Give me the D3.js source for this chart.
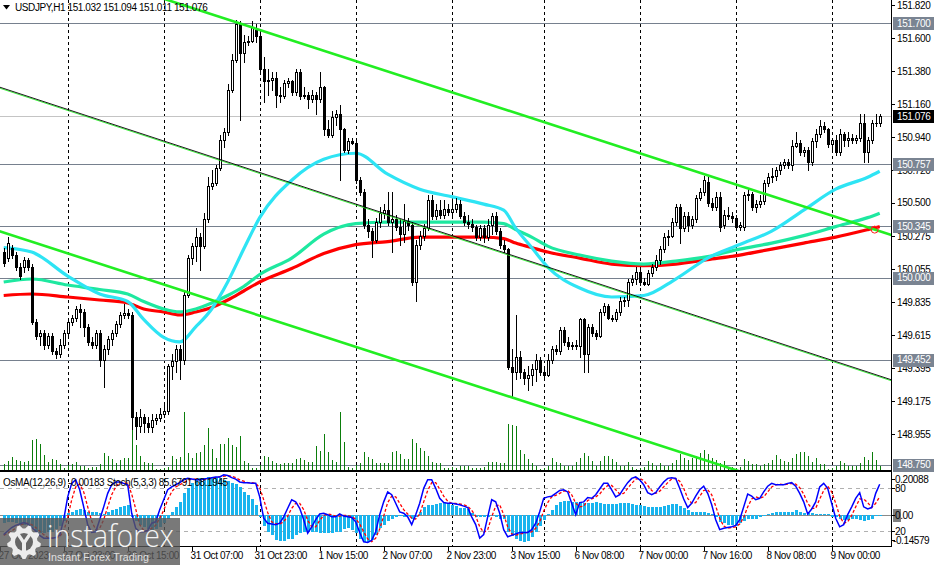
<!DOCTYPE html>
<html><head><meta charset="utf-8">
<script src="https://cdn.jsdelivr.net/npm/d3@7/dist/d3.min.js"></script>
<style>
html,body{margin:0;padding:0;background:#fff;overflow:hidden}
svg{display:block}
text{font-family:"Liberation Sans",Arial,sans-serif;font-size:10px;letter-spacing:-0.4px}
</style></head><body>
<svg id="chart" width="939" height="565"></svg>
<script>
// ---------- DATA (USDJPY H1, 27 Oct 2023 08:00 .. 9 Nov 2023 12:00) ----------
const opens=[150.17,150.13,150.20,150.15,150.07,150.07,150.12,150.07,149.70,149.61,
149.63,149.55,149.61,149.51,149.49,149.55,149.63,149.70,149.73,149.79,
149.77,149.67,149.57,149.55,149.63,149.45,149.52,149.59,149.63,149.69,
149.75,149.76,149.75,149.07,149.01,149.07,149.03,149.00,149.05,149.06,
149.09,149.11,149.41,149.44,149.52,149.45,149.88,150.13,150.21,150.27,
150.21,150.39,150.61,150.63,150.73,150.92,150.97,151.25,151.45,151.69,
151.50,151.57,151.58,151.65,151.61,151.39,151.31,151.32,151.33,151.22,
151.21,151.30,151.31,151.24,151.37,151.21,151.22,151.19,151.22,151.19,
151.27,150.99,150.95,151.07,151.09,150.99,150.85,150.91,150.90,150.65,
150.57,150.35,150.31,150.25,150.37,150.43,150.45,150.37,150.39,150.34,
150.29,150.38,150.35,149.97,150.22,150.28,150.33,150.52,150.41,150.45,
150.42,150.46,150.44,150.46,150.49,150.41,150.37,150.36,150.34,150.27,
150.33,150.27,150.35,150.41,150.31,150.22,150.19,149.40,149.37,149.47,
149.37,149.33,149.35,149.39,149.45,149.37,149.35,149.45,149.52,149.51,
149.65,149.57,149.54,149.55,149.54,149.72,149.49,149.67,149.63,149.61,
149.77,149.81,149.73,149.72,149.77,149.84,149.85,149.97,149.99,150.04,
149.97,149.96,150.03,150.07,150.12,150.19,150.27,150.28,150.37,150.47,
150.33,150.41,150.35,150.39,150.53,150.57,150.64,150.50,150.47,150.54,
150.35,150.42,150.41,150.40,150.34,150.34,150.55,150.56,150.47,150.49,
150.51,150.63,150.67,150.68,150.72,150.75,150.77,150.75,150.88,150.90,
150.84,150.85,150.77,150.91,150.96,151.01,150.99,150.89,150.92,150.84,
150.96,150.92,150.93,150.92,150.93,151.03,150.84,150.92,151.03,151.032];
const highs=[150.20,150.27,150.22,150.17,150.10,150.14,150.13,150.09,149.72,149.65,
149.65,149.63,149.63,149.53,149.59,149.65,149.73,149.75,149.81,149.82,
149.79,149.69,149.60,149.65,149.65,149.55,149.61,149.65,149.71,149.77,
149.82,149.79,149.77,149.10,149.12,149.09,149.07,149.09,149.09,149.13,
149.15,149.42,149.49,149.55,149.55,149.92,150.15,150.23,150.33,150.30,
150.43,150.67,150.72,150.75,150.95,151.00,151.29,151.49,151.72,151.71,
151.62,151.61,151.71,151.69,151.63,151.47,151.39,151.37,151.37,151.27,
151.32,151.33,151.32,151.39,151.39,151.27,151.24,151.25,151.24,151.37,
151.28,151.05,151.11,151.12,151.15,151.00,150.93,150.93,150.92,150.67,
150.59,150.39,150.33,150.40,150.47,150.49,150.57,150.57,150.42,150.39,
150.49,150.40,150.37,150.25,150.31,150.36,150.55,150.55,150.49,150.52,
150.52,150.49,150.52,150.53,150.52,150.44,150.42,150.39,150.35,150.35,
150.35,150.39,150.43,150.44,150.33,150.25,150.20,149.52,149.75,149.51,
149.39,149.41,149.42,149.49,149.47,149.39,149.49,149.54,149.55,149.67,
149.67,149.60,149.57,149.58,149.73,149.73,149.69,149.69,149.65,149.79,
149.83,149.82,149.75,149.79,149.87,149.87,149.99,150.02,150.07,150.07,
150.00,150.05,150.09,150.15,150.21,150.30,150.32,150.40,150.49,150.49,
150.44,150.44,150.41,150.55,150.60,150.68,150.67,150.53,150.57,150.57,
150.45,150.47,150.44,150.42,150.37,150.57,150.59,150.57,150.52,150.55,
150.65,150.70,150.73,150.74,150.77,150.79,150.79,150.92,150.97,150.92,
150.87,150.87,150.93,150.99,151.05,151.04,151.00,150.93,150.95,150.99,
150.97,150.97,150.96,150.95,151.09,151.09,150.94,151.05,151.09,151.094];
const lows=[150.08,150.11,150.13,150.05,149.99,150.04,150.05,149.69,149.59,149.55,
149.52,149.53,149.49,149.46,149.47,149.53,149.61,149.68,149.71,149.67,
149.61,149.55,149.53,149.53,149.41,149.27,149.49,149.55,149.61,149.67,
149.73,149.73,148.99,148.92,148.97,148.97,148.97,148.97,149.02,149.04,
149.07,149.09,149.32,149.37,149.32,149.42,149.87,150.09,150.11,150.05,
150.20,150.37,150.59,150.62,150.72,150.87,150.95,151.24,151.44,151.05,
151.44,151.55,151.57,151.57,151.37,151.17,151.22,151.25,151.14,151.17,
151.20,151.27,151.22,151.22,151.19,151.20,151.13,151.17,151.09,151.17,
150.95,150.94,150.94,151.02,150.65,150.84,150.83,150.89,150.63,150.55,
150.33,150.27,150.14,150.24,150.34,150.40,150.35,150.17,150.32,150.22,
150.24,150.32,149.95,149.84,150.19,150.25,150.32,150.39,150.39,150.40,
150.40,150.42,150.42,150.44,150.40,150.35,150.33,150.31,150.25,150.25,
150.24,150.25,150.29,150.29,150.20,150.17,149.39,149.21,149.32,149.33,
149.29,149.25,149.28,149.31,149.35,149.33,149.34,149.43,149.49,149.49,
149.55,149.52,149.52,149.52,149.47,149.37,149.37,149.61,149.59,149.60,
149.75,149.72,149.71,149.71,149.75,149.81,149.81,149.95,149.96,149.95,
149.95,149.95,150.01,150.05,150.09,150.17,150.22,150.27,150.35,150.23,
150.31,150.31,150.33,150.37,150.52,150.55,150.48,150.45,150.45,150.31,
150.33,150.39,150.37,150.32,150.32,150.32,150.52,150.45,150.44,150.47,
150.49,150.61,150.64,150.65,150.69,150.73,150.73,150.72,150.87,150.82,
150.81,150.72,150.75,150.87,150.94,150.97,150.87,150.85,150.82,150.82,
150.88,150.88,150.90,150.90,150.91,150.77,150.77,150.90,151.01,151.011];
const closes=[150.10,150.23,150.15,150.07,150.01,150.12,150.07,149.70,149.61,149.63,
149.55,149.61,149.51,149.49,149.55,149.63,149.70,149.73,149.79,149.77,
149.67,149.57,149.55,149.63,149.45,149.52,149.59,149.63,149.69,149.75,
149.76,149.75,149.07,149.01,149.07,149.03,149.00,149.05,149.06,149.09,
149.11,149.41,149.44,149.52,149.45,149.88,150.13,150.21,150.27,150.21,
150.39,150.61,150.63,150.73,150.92,150.97,151.25,151.45,151.69,151.50,
151.57,151.58,151.67,151.61,151.39,151.31,151.32,151.33,151.22,151.21,
151.30,151.31,151.24,151.37,151.21,151.22,151.19,151.22,151.19,151.27,
150.99,150.95,151.07,151.09,150.99,150.85,150.91,150.90,150.65,150.57,
150.35,150.31,150.25,150.37,150.43,150.45,150.37,150.39,150.34,150.29,
150.38,150.35,149.97,150.22,150.28,150.33,150.52,150.41,150.45,150.42,
150.46,150.44,150.46,150.49,150.41,150.37,150.36,150.34,150.27,150.33,
150.27,150.35,150.41,150.31,150.22,150.19,149.40,149.37,149.47,149.37,
149.33,149.35,149.39,149.45,149.37,149.35,149.45,149.52,149.51,149.65,
149.57,149.54,149.55,149.54,149.72,149.49,149.67,149.63,149.61,149.77,
149.81,149.73,149.72,149.77,149.84,149.85,149.97,149.99,150.04,149.97,
149.96,150.03,150.07,150.12,150.19,150.27,150.28,150.37,150.47,150.33,
150.41,150.35,150.39,150.53,150.57,150.65,150.50,150.47,150.54,150.34,
150.42,150.41,150.40,150.34,150.35,150.55,150.56,150.47,150.49,150.51,
150.63,150.67,150.68,150.72,150.75,150.77,150.75,150.88,150.90,150.84,
150.85,150.77,150.91,150.96,151.01,150.99,150.89,150.92,150.84,150.96,
150.92,150.93,150.92,150.93,151.03,150.84,150.92,151.03,151.03,151.076];
const volumes=[570,900,1300,1000,900,800,900,3000,3100,2600,
1500,800,1100,1000,600,200,500,600,800,400,
400,200,300,300,600,1700,1400,1100,700,1000,
1200,1200,4200,2500,1400,800,700,700,100,100,
200,300,1400,1100,1300,5800,1700,1200,1700,1800,
2500,4200,2100,1200,2600,2600,3200,2500,2300,3400,
900,700,200,200,500,1400,1300,900,700,600,
700,700,700,1100,1200,1000,800,800,2400,1900,
3600,1800,1000,800,5800,2800,300,200,500,700,
1800,1300,1100,700,700,700,700,1800,1900,1600,
1100,1100,3100,2700,2200,1900,1400,800,700,700,
200,200,300,200,400,400,400,200,200,200,
300,800,800,800,700,700,4600,4500,4400,2000,
1600,1100,700,400,100,200,400,1200,800,700,
400,400,400,800,1200,1700,1400,900,400,900,
1400,1400,1100,800,400,400,800,300,100,200,
300,900,700,400,700,400,400,700,1000,1600,
1200,1000,1200,1400,1700,2000,1600,1200,1000,700,
900,100,300,200,300,1100,900,600,600,400,
600,700,1000,1500,1100,900,800,1200,1600,1800,
1800,1400,800,1200,600,600,100,200,400,900,
700,400,400,400,700,1300,1000,1800,1000,400];
const osma=[-0.039,-0.034,-0.034,-0.039,-0.044,-0.044,-0.044,-0.063,-0.078,-0.087,
-0.087,-0.082,-0.078,-0.068,-0.053,-0.029,0.010,0.019,0.024,0.029,
0.024,0.019,0.015,0.015,0.010,0.005,0.019,0.024,0.029,0.039,
0.044,0.049,-0.010,-0.029,-0.044,-0.058,-0.068,-0.073,-0.068,-0.058,
-0.039,-0.015,0.015,0.039,0.063,0.107,0.131,0.155,0.170,0.180,
0.180,0.184,0.184,0.184,0.180,0.170,0.165,0.155,0.150,0.136,
0.116,0.097,0.078,0.049,-0.010,-0.049,-0.082,-0.097,-0.121,-0.126,
-0.126,-0.116,-0.112,-0.097,-0.087,-0.082,-0.082,-0.082,-0.082,-0.087,
-0.087,-0.087,-0.087,-0.082,-0.078,-0.068,-0.063,-0.073,-0.087,-0.112,
-0.131,-0.131,-0.121,-0.097,-0.063,-0.044,-0.029,-0.015,-0.010,-0.005,
-0.010,-0.005,-0.015,-0.010,0.015,0.039,0.049,0.049,0.053,0.058,
0.058,0.053,0.049,0.044,0.034,0.034,0.029,0.010,-0.010,-0.010,
-0.010,-0.010,-0.005,-0.010,-0.015,-0.015,-0.082,-0.102,-0.112,-0.126,
-0.131,-0.126,-0.107,-0.082,-0.049,-0.024,0.005,0.024,0.049,0.063,
0.068,0.068,0.063,0.063,0.063,0.058,0.058,0.058,0.063,0.058,
0.053,0.053,0.053,0.053,0.058,0.058,0.058,0.053,0.049,0.049,
0.044,0.039,0.039,0.039,0.039,0.044,0.049,0.053,0.053,0.044,
0.034,0.024,0.019,0.019,0.019,0.015,0.010,0.005,-0.010,-0.034,
-0.039,-0.044,-0.044,-0.049,-0.039,-0.029,-0.019,-0.019,-0.019,-0.010,
-0.005,0.005,0.010,0.015,0.015,0.015,0.019,0.019,0.024,0.019,
0.010,0.010,0.010,0.005,0.005,0.005,0.005,-0.010,-0.010,-0.015,
-0.024,-0.024,-0.019,-0.019,-0.024,-0.029,-0.024,-0.019,-0.005,-0.00183];
const stochMain=[15,20,25,28,30,32,30,25,20,14,
10,10,10,11,14,36,68,87,92,78,
54,29,18,19,36,54,73,85,89,89,
87,85,45,24,19,19,21,31,33,50,
64,78,82,85,88,92,94,93,92,92,
93,94,95,96,96,99,98,95,93,89,
88,88,87,87,68,38,31,30,29,31,
40,52,64,61,52,36,17,26,36,44,
45,43,40,40,44,41,40,39,33,18,
5,4,7,19,43,61,75,71,59,47,
45,40,29,43,59,80,92,92,80,66,
60,59,59,58,57,55,53,40,29,10,
15,40,64,61,45,22,12,14,16,18,
18,18,22,31,47,66,68,69,73,77,
78,75,59,43,60,61,67,66,71,79,
87,87,78,68,71,80,88,94,96,92,
85,74,71,74,82,89,94,95,94,80,
65,53,59,69,78,83,73,57,36,22,
24,25,26,28,36,54,72,69,64,66,
75,83,87,85,85,85,87,88,83,73,
61,44,51,61,82,87,80,59,38,26,
29,43,54,66,74,54,51,53,73,85.68];
const stochSignal=[14,17,20,24,28,30,31,29,25,20,
15,11,10,10,12,20,39,64,82,86,
75,54,34,22,24,36,54,71,82,88,
88,87,72,51,29,21,20,24,28,38,
49,64,75,82,85,88,91,93,93,92,
92,93,94,95,96,97,98,97,95,92,
90,88,88,87,81,64,46,33,30,30,
33,41,52,59,59,50,35,26,26,35,
42,44,43,41,41,42,42,40,37,30,
19,9,5,10,23,41,60,69,68,59,
50,44,38,37,44,61,77,88,88,79,
69,62,59,59,58,57,55,49,41,26,
18,22,40,55,57,43,26,16,14,16,
17,18,19,24,33,48,60,68,70,73,
76,77,71,59,54,55,63,65,68,72,
79,84,84,78,72,73,80,87,93,94,
91,84,77,73,76,82,88,93,94,90,
80,66,59,60,69,77,78,71,55,38,
27,24,25,26,30,39,54,65,68,66,
68,75,82,85,86,85,86,87,86,81,
72,59,52,52,65,77,83,75,59,41,
31,33,42,54,65,65,60,53,59,68.19];
// moving averages, read at these bar indices
const maBars=[0,7,16,24,31,35,40,44,48,52,56,60,64,72,80,88,96,104,112,120,125,128,132,136,144,152,160,168,176,184,192,200,208,216,219];
const maFast=[150.20,150.17,150.01,149.89,149.84,149.72,149.60,149.57,149.67,149.79,149.97,150.19,150.40,150.65,150.79,150.83,150.69,150.59,150.54,150.49,150.45,150.33,150.20,150.07,149.93,149.87,149.88,149.99,150.13,150.22,150.31,150.45,150.59,150.67,150.71];
const maMid=[149.97,149.99,149.95,149.92,149.89,149.84,149.79,149.77,149.79,149.83,149.88,149.94,150.02,150.13,150.29,150.36,150.37,150.37,150.37,150.37,150.36,150.32,150.27,150.21,150.15,150.11,150.09,150.11,150.14,150.19,150.23,150.28,150.34,150.40,150.43];
const maSlow=[149.88,149.89,149.87,149.85,149.83,149.79,149.77,149.75,149.77,149.80,149.85,149.91,149.97,150.06,150.16,150.22,150.24,150.27,150.27,150.27,150.26,150.23,150.20,150.17,150.13,150.09,150.08,150.09,150.12,150.15,150.19,150.23,150.27,150.32,150.34];
// trend lines: [bar0, price0, bar1, price1]
const trendUpper=[41,151.853,219,150.31];
const trendLower=[0,150.30,180,148.74];
const trendMiddle=[0,151.26,219,149.34];
const priceTicks=[151.820,151.600,151.380,151.160,150.940,150.720,150.500,150.275,150.055,149.835,149.615,149.395,149.175,148.955];
const levels=[151.700,150.757,150.345,150.000,149.452,148.750];
const lastPrice=151.076;
const daySeparators=[16,40,64,88,112,135,159,183,207];
const timeLabels=["27 Oct 2023","27 Oct 23:00","30 Oct 15:00","31 Oct 07:00","31 Oct 23:00","1 Nov 15:00","2 Nov 07:00","2 Nov 23:00","3 Nov 15:00","6 Nov 08:00","7 Nov 00:00","7 Nov 16:00","8 Nov 08:00","9 Nov 00:00"];
const timeLabelBars=[-1,15,31,47,63,79,95,111,127,143,159,175,191,207];
const osmaTicks=[0.20088,0.00,-0.14579];
const stochTicks=[80,20];
const titleText="USDJPY,H1  151.032 151.094 151.011 151.076";
const indText="OsMA(12,26,9) -0.00183   Stoch(5,3,3) 85.6791 68.1945";

// ---------- LAYOUT ----------
const plotR=891, mainB=470, indT=473, indB=546.5;
const svg=d3.select('#chart');
const x=d3.scaleLinear().domain([0,219]).range([3.7,879.7]);
const y=d3.scaleLinear().domain([148.955,151.820]).range([434,5]);
const yV=d3.scaleLinear().domain([0,6000]).range([mainB,410]);
const yO=d3.scaleLinear().domain([-0.14579,0.20088]).range([545.5,474]);
const yS=d3.scaleLinear().domain([0,100]).range([545.3,474.1]);
const px=i=>Math.round(x(i))+0.5;
const rY=v=>Math.round(v)+0.5;

const defs=svg.append('defs');
defs.append('clipPath').attr('id','cm').append('rect').attr('x',0).attr('y',0).attr('width',plotR).attr('height',mainB);
defs.append('clipPath').attr('id','ci').append('rect').attr('x',0).attr('y',indT).attr('width',plotR).attr('height',indB-indT);

svg.append('rect').attr('width',939).attr('height',565).attr('fill','#fff');

const gM=svg.append('g').attr('clip-path','url(#cm)');
const gI=svg.append('g').attr('clip-path','url(#ci)');

// day separators
[[0,mainB,gM],[indT,indB,gI]].forEach(([a,b,g])=>{
  g.selectAll(null).data(daySeparators).join('line')
   .attr('x1',d=>px(d)).attr('x2',d=>px(d)).attr('y1',a).attr('y2',b)
   .attr('stroke','#000').attr('stroke-dasharray','3,3').attr('shape-rendering','crispEdges');
});

// level lines
gM.selectAll(null).data(levels).join('line')
  .attr('x1',0).attr('x2',plotR).attr('y1',d=>rY(y(d))).attr('y2',d=>rY(y(d)))
  .attr('stroke','#76808e').attr('shape-rendering','crispEdges');
gM.append('line').attr('x1',0).attr('x2',plotR).attr('y1',rY(y(lastPrice))).attr('y2',rY(y(lastPrice)))
  .attr('stroke','#c4c4c4').attr('shape-rendering','crispEdges');

// volumes
gM.selectAll(null).data(volumes).join('line')
  .attr('x1',(d,i)=>px(i)).attr('x2',(d,i)=>px(i)).attr('y1',mainB).attr('y2',d=>Math.round(yV(d)))
  .attr('stroke','#0b7d0b').attr('shape-rendering','crispEdges');

// moving averages
const maLine=d3.line().x(d=>x(d[0])).y(d=>y(d[1])).curve(d3.curveMonotoneX);
[[maSlow,'#ff0000'],[maMid,'#1ee8a0'],[maFast,'#2ee4f4']].forEach(([arr,col])=>{
  gM.append('path').attr('d',maLine(maBars.map((b,k)=>[b,arr[k]])))
    .attr('fill','none').attr('stroke',col).attr('stroke-width',3.2);
});

// candles
const bars=d3.range(opens.length).map(i=>({i,o:opens[i],h:highs[i],l:lows[i],c:closes[i]}));
gM.selectAll(null).data(bars).join('line')
  .attr('x1',d=>px(d.i)).attr('x2',d=>px(d.i)).attr('y1',d=>Math.round(y(d.h))).attr('y2',d=>Math.round(y(d.l))+1)
  .attr('stroke','#000').attr('shape-rendering','crispEdges');
gM.selectAll(null).data(bars.filter(d=>d.c<d.o)).join('rect')
  .attr('x',d=>px(d.i)-1.5).attr('width',3)
  .attr('y',d=>Math.round(y(d.o))).attr('height',d=>Math.max(1,Math.round(y(d.c))-Math.round(y(d.o))+1))
  .attr('fill','#000').attr('shape-rendering','crispEdges');
gM.selectAll(null).data(bars.filter(d=>d.c>=d.o)).join('rect')
  .attr('x',d=>px(d.i)-1).attr('width',2)
  .attr('y',d=>rY(y(d.c))).attr('height',d=>Math.max(0.01,Math.round(y(d.o))-Math.round(y(d.c))))
  .attr('fill','#fff').attr('stroke','#000').attr('stroke-width',1).attr('shape-rendering','crispEdges');

// trend lines (rays extended through the x range)
function ext(t){const [b0,p0,b1,p1]=t;const s=(p1-p0)/(b1-b0);return [[-2,p0+s*(-2-b0)],[224,p0+s*(224-b0)]];}
const tl=d3.line().x(d=>x(d[0])).y(d=>y(d[1]));
const mid=ext(trendMiddle);
gM.append('path').attr('d',tl(mid)).attr('transform','translate(0,0.6)').attr('stroke','#22ee22').attr('stroke-width',0.9).attr('fill','none');
gM.append('path').attr('d',tl(mid)).attr('transform','translate(0,-0.4)').attr('stroke','#000').attr('stroke-width',0.9).attr('fill','none');
[trendUpper,trendLower].forEach(t=>{
  gM.append('path').attr('d',tl(ext(t))).attr('stroke','#22ee22').attr('stroke-width',2.6).attr('fill','none');
});
gM.append('circle').attr('cx',x(218)-1).attr('cy',y(maSlow[maSlow.length-1])+3).attr('r',3.5)
  .attr('fill','none').attr('stroke','#ff2020').attr('stroke-width',1);

// ---------- INDICATOR ----------
gI.append('line').attr('x1',0).attr('x2',plotR).attr('y1',rY(yO(0))).attr('y2',rY(yO(0))).attr('stroke','#8a8a8a').attr('shape-rendering','crispEdges');
gI.selectAll(null).data(stochTicks).join('line')
  .attr('x1',0).attr('x2',plotR).attr('y1',d=>rY(yS(d))).attr('y2',d=>rY(yS(d)))
  .attr('stroke','#b0b0b0').attr('stroke-dasharray','4,4').attr('shape-rendering','crispEdges');
gI.selectAll(null).data(osma).join('rect')
  .attr('x',(d,i)=>Math.round(x(i))-1).attr('width',3)
  .attr('y',d=>Math.round(yO(Math.max(d,0)))).attr('height',d=>Math.max(0,Math.abs(Math.round(yO(d))-Math.round(yO(0)))))
  .attr('fill','#19b4ee').attr('shape-rendering','crispEdges');
const sl=d3.line().x((d,i)=>x(i)).y(d=>yS(d));
gI.append('path').attr('d',sl(stochSignal)).attr('fill','none').attr('stroke','#ff0000').attr('stroke-width',1.3).attr('stroke-dasharray','3,2');
gI.append('path').attr('d',sl(stochMain)).attr('fill','none').attr('stroke','#0000ff').attr('stroke-width',1.5);

// frames
svg.append('rect').attr('x',0).attr('y',mainB).attr('width',plotR).attr('height',2).attr('fill','#000');
svg.append('line').attr('x1',0).attr('x2',plotR).attr('y1',indB).attr('y2',indB).attr('stroke','#000').attr('shape-rendering','crispEdges');
svg.append('line').attr('x1',plotR+0.5).attr('x2',plotR+0.5).attr('y1',0).attr('y2',indB).attr('stroke','#000').attr('shape-rendering','crispEdges');

// price axis
const ax=svg.append('g');
ax.selectAll(null).data(priceTicks).join('line')
  .attr('x1',plotR).attr('x2',plotR+4).attr('y1',d=>rY(y(d))).attr('y2',d=>rY(y(d))).attr('stroke','#000').attr('shape-rendering','crispEdges');
ax.selectAll(null).data(priceTicks).join('text')
  .attr('x',897).attr('y',d=>y(d)+3.8).attr('fill','#000').text(d=>d.toFixed(3));
const lv=ax.selectAll(null).data(levels).join('g');
lv.append('rect').attr('x',893).attr('width',41).attr('y',d=>Math.round(y(d))-6).attr('height',13).attr('fill','#7a8492');
lv.append('text').attr('x',897).attr('y',d=>y(d)+3.8).attr('fill','#fff').text(d=>d.toFixed(3));
ax.append('rect').attr('x',893).attr('width',41).attr('y',Math.round(y(lastPrice))-6).attr('height',13).attr('fill','#000');
ax.append('text').attr('x',897).attr('y',y(lastPrice)+3.8).attr('fill','#fff').text(lastPrice.toFixed(3));

// indicator axis
const ia=svg.append('g');
ia.append('text').attr('x',895).attr('y',yO(osmaTicks[0])+9).text(osmaTicks[0].toFixed(5));
ia.selectAll(null).data(stochTicks).join('text').attr('x',895).attr('y',d=>yS(d)+3.8).text(d=>d);
ia.append('rect').attr('x',893).attr('y',Math.round(yO(0))-6).attr('width',8).attr('height',13).attr('fill','#808080');
ia.append('text').attr('x',895).attr('y',yO(0)+3.8).text(osmaTicks[1].toFixed(2));
ia.append('text').attr('x',893).attr('y',yO(osmaTicks[2])-2).text(osmaTicks[2].toFixed(5));
ia.selectAll(null).data([yO(osmaTicks[0])+5,yS(80),yO(0),yS(20),yO(osmaTicks[2])-6]).join('line')
  .attr('x1',plotR).attr('x2',plotR+4).attr('y1',d=>rY(d)).attr('y2',d=>rY(d)).attr('stroke','#000').attr('shape-rendering','crispEdges');

// time axis
const ta=svg.append('g');
ta.selectAll(null).data(timeLabelBars).join('line')
  .attr('x1',d=>px(d)).attr('x2',d=>px(d)).attr('y1',indB).attr('y2',indB+4).attr('stroke','#000').attr('shape-rendering','crispEdges');
ta.selectAll(null).data(timeLabels).join('text')
  .attr('x',(d,k)=>px(timeLabelBars[k])-2).attr('y',559).text(d=>d);

// titles
svg.append('path').attr('d','M3,5 L10,5 L6.5,9.5 Z').attr('fill','#000');
svg.append('text').attr('x',15).attr('y',11).attr('fill','#000').text(titleText);
svg.append('text').attr('x',3).attr('y',486).attr('fill','#000').text(indText);

// logo
const lg=svg.append('g');
lg.append('rect').attr('x',0).attr('y',518).attr('width',180).attr('height',47).attr('fill','rgba(88,88,88,0.8)');
function gear(cx,cy,r1,r2,n){const p=[];for(let k=0;k<n*4;k++){const a=(k+0.5)/(n*4)*2*Math.PI;const r=(k%4<2)?r1:r2;p.push([cx+r*Math.cos(a),cy+r*Math.sin(a)]);}return 'M'+p.map(q=>q[0].toFixed(1)+','+q[1].toFixed(1)).join('L')+'Z';}
lg.append('path').attr('d',gear(24,542,17,13.5,9)).attr('fill','#ececec');
lg.append('circle').attr('cx',24).attr('cy',542).attr('r',9).attr('fill','#666');
lg.append('path').attr('d','M16,534 L20,534 L24,540 L28,534 L32,534 L26,543 L26,552 L22,552 L22,543 Z').attr('fill','#ececec');
lg.append('text').attr('x',47).attr('y',547).attr('fill','#f4f4f4')
  .style('font-family','"Open Sans",Lato,sans-serif').style('font-size','31px').style('font-weight','300').style('letter-spacing','0px')
  .attr('textLength',127).attr('lengthAdjust','spacingAndGlyphs').text('instaforex');
lg.append('text').attr('x',48).attr('y',561).attr('fill','#e0e0e0')
  .style('font-size','11px').style('letter-spacing','0px')
  .attr('textLength',101).attr('lengthAdjust','spacingAndGlyphs').text('Instant Forex Trading');
</script>
</body></html>
